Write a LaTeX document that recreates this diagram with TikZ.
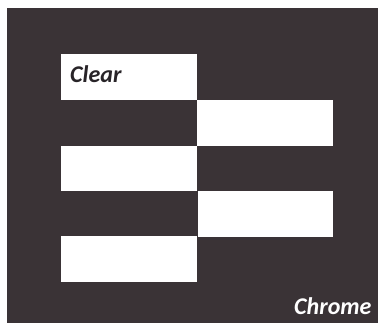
\documentclass[tikz,border=0pt]{standalone}
\usepackage{fontspec}
\setmainfont{Carlito}
\definecolor{bgdark}{RGB}{58,51,54}
\definecolor{txtdark}{RGB}{40,36,40}
\begin{document}
\begin{tikzpicture}[x=1pt,y=-1pt,
  panel/.style={fill=white,draw=none},
  lbl/.style={font=\fontsize{24}{24}\selectfont\bfseries\itshape,inner sep=0pt,anchor=base west}]
\useasboundingbox (0,0) rectangle (378,323);
\fill[bgdark] (7,8) rectangle (378,323);
\fill[panel] (61,54) rectangle (197,100);
\fill[panel] (197,100) rectangle (333,146);
\fill[panel] (61,146) rectangle (197,191);
\fill[panel] (198,191) rectangle (333,237);
\fill[panel] (61,236) rectangle (197,282);
\node[lbl,text=txtdark] (clear) at (70,83) {Clear};
\node[lbl,text=white] (chrome) at (294,315) {Chrome};
\end{tikzpicture}
\end{document}
